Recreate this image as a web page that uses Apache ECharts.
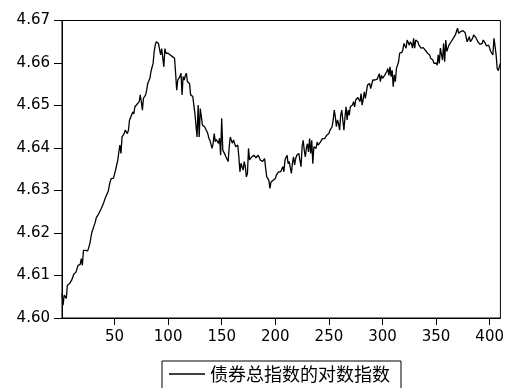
<!DOCTYPE html>
<html>
<head>
<meta charset="utf-8">
<script src="https://cdn.jsdelivr.net/npm/echarts@6/dist/echarts.min.js"></script>
<style>
html,body{margin:0;padding:0;background:#fff;}
#chart{width:507px;height:388px;}
</style>
</head>
<body>
<div id="chart"></div>
<script>
// Series name
const seriesName = '债券总指数的对数指数';
// Observation values, t = 1 .. 410
const values = [
4.6058,4.6030,4.6054,4.6050,4.6046,4.6077,4.6079,4.6081,4.6085,4.6089,
4.6085,4.6103,4.6100,4.6108,4.6112,4.6124,4.6128,4.6126,4.6140,4.6124,
4.6159,4.6157,4.6159,4.6160,4.6158,4.6161,4.6175,4.6190,4.6203,4.6210,
4.6218,4.6225,4.6236,4.6240,4.6244,4.6243,4.6254,4.6256,4.6266,4.6272,
4.6280,4.6286,4.6292,4.6297,4.6310,4.6322,4.6328,4.6324,4.6329,4.6332,
4.6348,4.6360,4.6371,4.6390,4.6407,4.6387,4.6426,4.6423,4.6434,4.6442,
4.6440,4.6434,4.6442,4.6466,4.6472,4.6478,4.6485,4.6480,4.6497,4.6500,
4.6503,4.6506,4.6509,4.6525,4.6509,4.6489,4.6517,4.6520,4.6525,4.6536,
4.6552,4.6558,4.6564,4.6580,4.6590,4.6599,4.6627,4.6642,4.6650,4.6648,
4.6646,4.6642,4.6619,4.6634,4.6630,4.6591,4.6634,4.6623,4.6627,4.6623,
4.6623,4.6619,4.6615,4.6615,4.6613,4.6611,4.6576,4.6536,4.6560,4.6564,
4.6568,4.6576,4.6525,4.6568,4.6560,4.6570,4.6576,4.6556,4.6560,4.6552,
4.6525,4.6521,4.6521,4.6520,4.6481,4.6478,4.6426,4.6501,4.6426,4.6493,
4.6474,4.6454,4.6452,4.6450,4.6446,4.6440,4.6434,4.6423,4.6418,4.6415,
4.6399,4.6411,4.6434,4.6415,4.6420,4.6423,4.6411,4.6423,4.6383,4.6470,
4.6395,4.6391,4.6385,4.6379,4.6375,4.6368,4.6403,4.6426,4.6418,4.6411,
4.6419,4.6423,4.6403,4.6405,4.6407,4.6379,4.6344,4.6364,4.6356,4.6348,
4.6368,4.6356,4.6332,4.6340,4.6399,4.6372,4.6375,4.6379,4.6381,4.6383,
4.6379,4.6377,4.6375,4.6383,4.6378,4.6372,4.6370,4.6368,4.6364,4.6375,
4.6352,4.6332,4.6328,4.6324,4.6305,4.6320,4.6322,4.6324,4.6326,4.6328,
4.6336,4.6338,4.6344,4.6340,4.6344,4.6350,4.6356,4.6344,4.6371,4.6378,
4.6383,4.6363,4.6368,4.6371,4.6340,4.6365,4.6379,4.6360,4.6375,4.6383,
4.6385,4.6387,4.6371,4.6356,4.6403,4.6418,4.6395,4.6379,4.6400,4.6410,
4.6391,4.6422,4.6387,4.6418,4.6363,4.6403,4.6401,4.6399,4.6414,4.6407,
4.6410,4.6414,4.6418,4.6422,4.6426,4.6422,4.6426,4.6430,4.6432,4.6434,
4.6442,4.6446,4.6450,4.6466,4.6489,4.6473,4.6450,4.6466,4.6458,4.6442,
4.6477,4.6489,4.6466,4.6442,4.6473,4.6497,4.6466,4.6489,4.6477,4.6497,
4.6493,4.6501,4.6509,4.6497,4.6513,4.6517,4.6519,4.6521,4.6509,4.6528,
4.6501,4.6515,4.6532,4.6517,4.6532,4.6548,4.6550,4.6552,4.6540,4.6550,
4.6560,4.6558,4.6560,4.6564,4.6562,4.6560,4.6575,4.6556,4.6571,4.6564,
4.6568,4.6571,4.6575,4.6580,4.6587,4.6571,4.6591,4.6568,4.6583,4.6544,
4.6572,4.6556,4.6587,4.6595,4.6603,4.6623,4.6619,4.6625,4.6631,4.6646,
4.6640,4.6635,4.6654,4.6648,4.6642,4.6650,4.6645,4.6635,4.6658,4.6635,
4.6654,4.6652,4.6650,4.6642,4.6638,4.6635,4.6638,4.6636,4.6635,4.6630,
4.6627,4.6623,4.6621,4.6619,4.6611,4.6615,4.6607,4.6599,4.6603,4.6600,
4.6595,4.6619,4.6599,4.6635,4.6620,4.6607,4.6646,4.6603,4.6654,4.6627,
4.6635,4.6642,4.6646,4.6650,4.6654,4.6658,4.6662,4.6666,4.6674,4.6682,
4.6670,4.6666,4.6674,4.6678,4.6676,4.6674,4.6672,4.6670,4.6650,4.6656,
4.6662,4.6650,4.6654,4.6658,4.6666,4.6662,4.6660,4.6658,4.6650,4.6646,
4.6644,4.6642,4.6646,4.6654,4.6650,4.6646,4.6640,4.6638,4.6642,4.6635,
4.6627,4.6631,4.6619,4.6658,4.6640,4.6619,4.6587,4.6582,4.6580,4.6599
];
// Tick labels
const xTicks = [50, 100, 150, 200, 250, 300, 350, 400];
const yTicks = [4.60, 4.61, 4.62, 4.63, 4.64, 4.65, 4.66, 4.67];

const points = values.map((v, i) => [i + 1, v]);

const chart = echarts.init(document.getElementById('chart'), null, {renderer: 'canvas'});
const labelFont = {color: '#000', fontFamily: 'DejaVu Sans', fontSize: 15};
chart.setOption({
  animation: false,
  backgroundColor: '#fff',
  grid: {left: 62, right: 3.5, top: 20.5, bottom: 70, show: true, borderColor: '#000', borderWidth: 1, containLabel: false},
  xAxis: {
    type: 'value', min: 1, max: values.length,
    axisLine: {show: true, lineStyle: {color: '#000', width: 1}},
    axisTick: {show: true, length: 7, inside: false, lineStyle: {color: '#000'}, customValues: xTicks},
    axisLabel: Object.assign({margin: 12, customValues: xTicks}, labelFont),
    splitLine: {show: false}
  },
  yAxis: {
    type: 'value', min: yTicks[0], max: yTicks[yTicks.length - 1],
    axisLine: {show: true, lineStyle: {color: '#000', width: 1}},
    axisTick: {show: true, length: 8, inside: false, lineStyle: {color: '#000'}, customValues: yTicks},
    axisLabel: Object.assign({margin: 12, customValues: yTicks, formatter: v => v.toFixed(2)}, labelFont),
    splitLine: {show: false}
  },
  legend: {
    show: true, left: 162, top: 361,
    data: [{name: seriesName, icon: 'rect'}],
    itemWidth: 36, itemHeight: 1.5,
    padding: [4, 11, 14, 7],
    borderColor: '#000', borderWidth: 1, borderRadius: 0,
    backgroundColor: '#fff',
    textStyle: {color: '#000', fontSize: 18, fontFamily: 'Noto Sans CJK SC'},
    itemStyle: {color: '#000'}
  },
  series: [{
    name: seriesName, type: 'line', data: points,
    showSymbol: false, symbol: 'none',
    lineStyle: {color: '#000', width: 1.3},
    itemStyle: {color: '#000'}
  }]
});
</script>
</body>
</html>
